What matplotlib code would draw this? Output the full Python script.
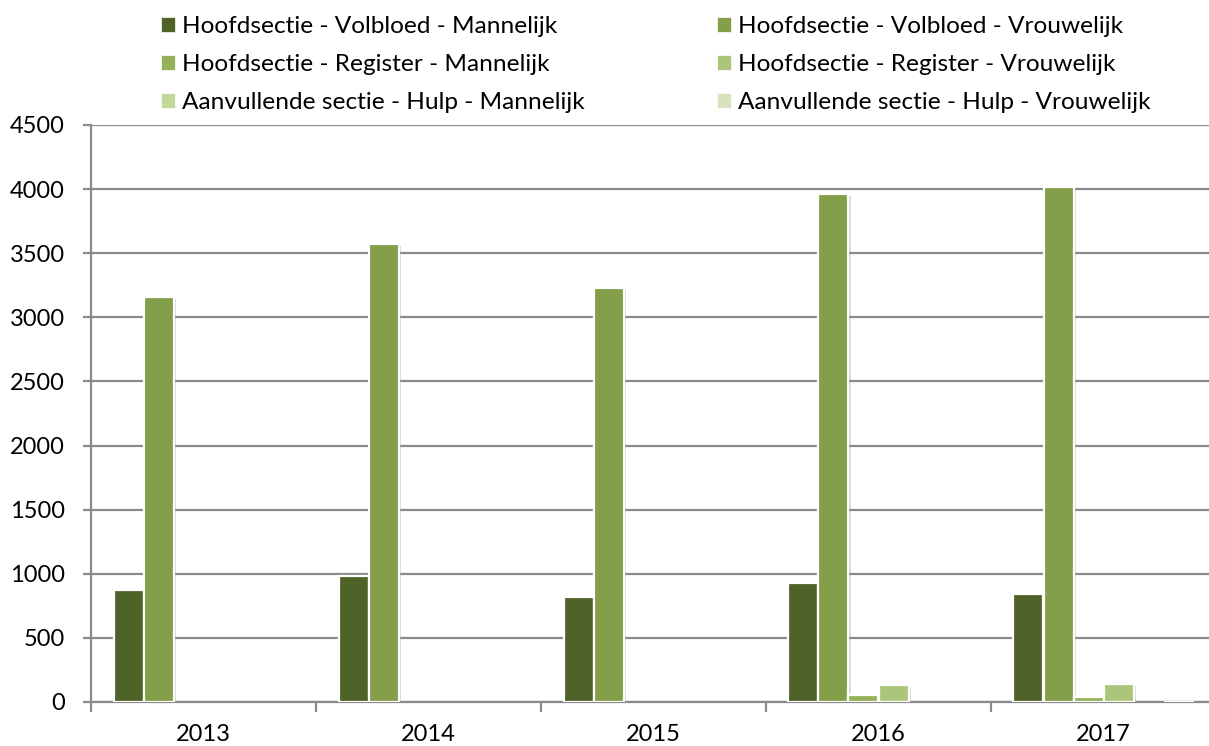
import matplotlib

matplotlib.use("Agg")
import matplotlib.pyplot as plt
import matplotlib.patheffects as pe
import numpy as np
from matplotlib.patches import Patch

plt.rcParams["font.family"] = ["Lato", "DejaVu Sans"]

years = ["2013", "2014", "2015", "2016", "2017"]
series = [
    "Hoofdsectie - Volbloed - Mannelijk",
    "Hoofdsectie - Volbloed - Vrouwelijk",
    "Hoofdsectie - Register - Mannelijk",
    "Hoofdsectie - Register - Vrouwelijk",
    "Aanvullende sectie - Hulp - Mannelijk",
    "Aanvullende sectie - Hulp - Vrouwelijk",
]
volbloed_m = [870, 985, 820, 930, 840]
volbloed_v = [3160, 3570, 3230, 3960, 4020]
register_m = [0, 0, 0, 55, 40]
register_v = [0, 0, 0, 130, 140]
hulp_m = [0, 0, 0, 0, 0]
hulp_v = [0, 0, 0, 0, 3]
values = [volbloed_m, volbloed_v, register_m, register_v, hulp_m, hulp_v]

colors = ["#4F6228", "#839F4A", "#95B25A", "#ABC57B", "#C3D69B", "#D6E3BC"]
GRID = "#8a8a8a"

W, H = 1209, 746
fig = plt.figure(figsize=(W / 100, H / 100), dpi=100)
ax = fig.add_axes([91 / W, 1 - 702 / H, 1125 / W, 577 / H])
ax.set_zorder(1)

x = np.arange(len(years))
w = 0.8 / len(series)
shadow = [pe.SimplePatchShadow(offset=(1.5, -1.5), shadow_rgbFace="#999999", alpha=0.35),
          pe.Normal()]
for j, vals in enumerate(values):
    bars = ax.bar(x + (j - 2.5) * w, vals, width=w, color=colors[j],
                  edgecolor="white", linewidth=1.6, zorder=3)
    for b in bars:
        if b.get_height() > 0:
            b.set_path_effects(shadow)
        else:
            b.set_visible(False)

ax.set_xlim(-0.5, 4.5)
ax.set_ylim(0, 4500)
ax.set_yticks(np.arange(0, 4501, 500))
ax.yaxis.grid(True, color=GRID, linewidth=1.6)
ax.set_axisbelow(True)
ax.tick_params(axis="y", length=6, width=1.6, color=GRID, labelsize=17, pad=13)

ax.set_xticks(np.arange(-0.5, 5.0, 1.0))
ax.set_xticklabels([])
ax.set_xticks(x, minor=True)
ax.set_xticklabels(years, minor=True)
ax.tick_params(axis="x", which="major", length=7, width=1.6, color=GRID)
ax.tick_params(axis="x", which="minor", length=0, labelsize=17, pad=16)

for s in ("top", "right"):
    ax.spines[s].set_visible(False)
for s in ("left", "bottom"):
    ax.spines[s].set_color(GRID)
    ax.spines[s].set_linewidth(1.6)

handles = [Patch(facecolor=c, edgecolor="white", linewidth=0.5) for c in colors]
order = [0, 2, 4, 1, 3, 5]
fig.legend([handles[i] for i in order], [series[i] for i in order],
           ncol=2, loc="upper left", bbox_to_anchor=(161 / W, 1 - 16 / H),
           frameon=False, fontsize=17.6, handlelength=0.57, handleheight=0.57,
           handletextpad=0.29, labelspacing=0.70, columnspacing=5.4,
           borderpad=0, borderaxespad=0)

fig.savefig("out.png", dpi=100)
